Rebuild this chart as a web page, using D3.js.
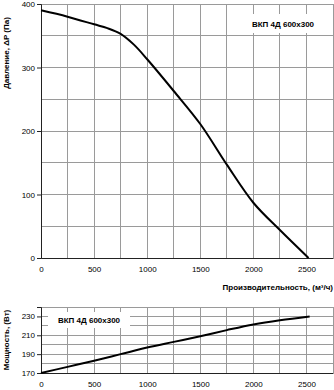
<!DOCTYPE html>
<html><head><meta charset="utf-8">
<script src="https://cdn.jsdelivr.net/npm/d3@7"></script>
<style>body{margin:0;background:#fff}svg{display:block}text{font-family:"Liberation Sans",Arial,sans-serif}</style>
</head><body>
<svg id="c" width="334" height="390"></svg>
<script>
const flow = [0,250,500,625,750,875,1000,1250,1500,1750,2000,2250,2520];
const pressure = [390,380,368,362,353,336,313,263,211,147,87,44,0];
const flowP = [0,250,500,750,1000,1250,1500,1750,2000,2250,2530];
const power = [170,176.5,183,190,197,203,209,215.5,221.5,226,230];
const xTicks = [0,500,1000,1500,2000,2500];
const yTicksP = [0,100,200,300,400];
const yTicksW = [170,190,210,230];
const model = "ВКП 4Д 600x300";
const xTitle = "Производительность, (м³/ч)";
const yTitleP = "Давление, ΔP (Па)";
const yTitleW = "Мощность, (Вт)";

const svg = d3.select("#c");
const x = d3.scaleLinear().domain([0,2750]).range([41,333]);
const yP = d3.scaleLinear().domain([0,400]).range([258,4]);
const yW = d3.scaleLinear().domain([170,240]).range([373,307]);
const grid = "#9a9a9a";
const fmt = d3.format("d");

function panel(y, yDomainTicks, yLabelTicks, xs, ys, labelBox, title, titleY){
  const g = svg.append("g");
  const [y0,y1] = y.range();
  g.selectAll(".vg").data(d3.range(250,2751,250)).join("line")
    .attr("x1",d=>x(d)).attr("x2",d=>x(d)).attr("y1",y0).attr("y2",y1)
    .attr("stroke",grid).attr("stroke-width",1).attr("shape-rendering","crispEdges");
  g.selectAll(".hg").data(yDomainTicks).join("line")
    .attr("x1",x(0)).attr("x2",x(2750)).attr("y1",d=>y(d)).attr("y2",d=>y(d))
    .attr("stroke",grid).attr("stroke-width",1).attr("shape-rendering","crispEdges");
  const lb = g.append("g");
  lb.append("rect").attr("x",labelBox.x).attr("y",labelBox.y).attr("width",labelBox.w).attr("height",labelBox.h).attr("fill","#fff");
  lb.append("text").attr("x",labelBox.x+labelBox.w/2).attr("y",labelBox.y+labelBox.h/2+3)
    .attr("text-anchor","middle").attr("font-size",8).attr("font-weight","bold").text(model);
  const ax = g.append("g").attr("transform",`translate(${x(0)},0)`)
    .call(d3.axisLeft(y).tickValues(yLabelTicks).tickFormat(fmt).tickSize(4).tickPadding(2));
  ax.select(".domain").attr("stroke","#222");
  ax.selectAll(".tick line").attr("stroke","#222");
  ax.selectAll("text").attr("font-size",8).attr("fill","#000").style("font-family","'Liberation Sans',Arial,sans-serif");
  const bx = g.append("g").attr("transform",`translate(0,${y0})`)
    .call(d3.axisBottom(x).tickValues(xTicks).tickFormat(fmt).tickSize(0).tickPadding(8));
  bx.select(".domain").attr("stroke","#222");
  bx.selectAll("text").attr("font-size",8).attr("fill","#000").style("font-family","'Liberation Sans',Arial,sans-serif");
  const line = d3.line().x(d=>x(d[0])).y(d=>y(d[1])).curve(d3.curveCatmullRom.alpha(0.5));
  g.append("path").datum(xs.map((v,i)=>[v,ys[i]])).attr("d",line)
    .attr("fill","none").attr("stroke","#000").attr("stroke-width",2);
  g.append("text").attr("transform",`translate(9,${titleY}) rotate(-90)`)
    .attr("text-anchor","middle").attr("font-size",8).attr("font-weight","bold").text(title);
}

panel(yP, d3.range(0,401,50), yTicksP, flow, pressure, {x:240,y:14,w:86,h:19}, yTitleP, 53);
panel(yW, d3.range(170,241,10), yTicksW, flowP, power, {x:48,y:312,w:82,h:16}, yTitleW, 340);

svg.append("text").attr("x",333).attr("y",290).attr("text-anchor","end")
  .attr("font-size",8).attr("font-weight","bold").text(xTitle);
</script>
</body></html>
